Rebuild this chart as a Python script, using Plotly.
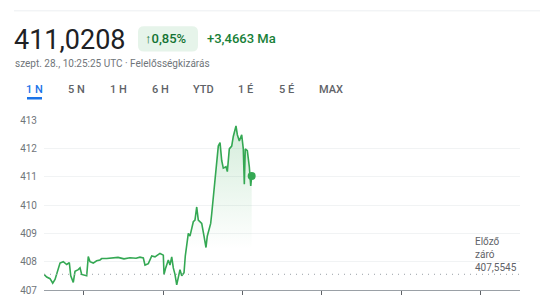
import plotly.graph_objects as go

# ---- data (hours from chart start, price) ----
hours = [0.0, 0.034, 0.076, 0.11, 0.139, 0.18, 0.202, 0.243, 0.286, 0.319, 0.337, 0.369, 0.391,
         0.432, 0.454, 0.475, 0.538, 0.558, 0.58, 0.621, 0.664, 0.706, 0.727, 0.79, 0.857, 0.933,
         1.008, 1.084, 1.16, 1.21, 1.252, 1.273, 1.315, 1.358, 1.399, 1.462, 1.504, 1.513, 1.534,
         1.567, 1.588, 1.61, 1.63, 1.651, 1.673, 1.693, 1.714, 1.736, 1.765, 1.781, 1.799, 1.819,
         1.84, 1.862, 1.882, 1.903, 1.925, 1.945, 1.966, 1.988, 2.017, 2.042, 2.058, 2.084, 2.101,
         2.114, 2.134, 2.156, 2.177, 2.197, 2.219, 2.24, 2.26, 2.294, 2.311, 2.336, 2.366, 2.386,
         2.42, 2.437, 2.462, 2.492, 2.512, 2.525, 2.537, 2.563, 2.588, 2.606, 2.618]
prices = [407.55, 407.46, 407.4, 407.24, 407.37, 407.78, 407.95, 408.0, 407.9, 407.97, 407.5, 407.27,
          407.66, 407.72, 407.78, 407.55, 407.5, 408.18, 408.0, 407.95, 408.03, 408.06, 408.11, 408.11,
          408.12, 408.15, 408.1, 408.14, 408.12, 408.16, 408.13, 407.88, 407.93, 408.2, 408.17, 408.29,
          408.23, 407.55, 407.78, 408.06, 407.88, 408.17, 407.78, 407.55, 407.18, 407.5, 407.72, 407.5,
          407.61, 408.2, 408.54, 409.0, 408.9, 409.13, 409.41, 409.47, 409.93, 409.47, 409.41, 409.35,
          408.9, 408.5, 408.9, 409.25, 409.35, 409.69, 410.26, 410.94, 411.4, 412.08, 412.2, 411.57,
          411.3, 411.35, 411.18, 411.98, 412.08, 412.42, 412.79, 412.48, 412.26, 412.48, 411.98,
          410.73, 411.98, 411.92, 411.35, 410.67, 411.02]
prev_close = 407.5545
y_ticks = [407, 408, 409, 410, 411, 412, 413]
x_ticks = [0.5, 1.5, 2.5, 3.5, 4.5, 5.5]
tabs = ["1 N", "5 N", "1 H", "6 H", "YTD", "1 É", "5 É", "MAX"]
tab_x = [34, 76, 118, 160, 203, 245, 286, 331]

W, H = 540, 304
L, R, T, B = 44, 20, 120, 8
pw, ph = W - L - R, H - T - B

def px(x):
    return (x - L) / pw

def py(y):
    return (H - B - y) / ph

GREEN = "#34a853"
fig = go.Figure()
fig.add_trace(go.Scatter(
    x=hours, y=prices, mode="lines",
    line=dict(color=GREEN, width=1.6),
    fill="tozeroy",
    fillgradient=dict(type="vertical", start=408.6, stop=413,
                      colorscale=[[0, "rgba(52,168,83,0)"], [1, "rgba(52,168,83,0.22)"]]),
    hoverinfo="skip", showlegend=False))
fig.add_trace(go.Scatter(x=[hours[-1]], y=[prices[-1]], mode="markers",
                         marker=dict(color=GREEN, size=8), showlegend=False))
fig.add_trace(go.Scatter(x=[0, 6], y=[prev_close, prev_close], mode="lines",
                         line=dict(color="#9aa0a6", width=1, dash="1px,5px"), showlegend=False))

ann = []
def text(x, y, s, size, color, xanchor="left", weight=400):
    ann.append(dict(x=px(x), y=py(y), xref="paper", yref="paper", text=s, showarrow=False,
                    xanchor=xanchor, yanchor="middle",
                    font=dict(size=size, color=color, family="Roboto", weight=weight)))

text(12, 37, "411,0208", 27, "#202124")
text(143, 36, "↑0,85%", 13, "#137333", weight=500)
text(205, 36, "+3,4663 Ma", 13, "#188038", weight=500)
text(13, 61, "szept. 28., 10:25:25 UTC · Felelősségkizárás", 10, "#70757a")
for t, x in zip(tabs, tab_x):
    text(x, 88, t, 11, "#1a73e8" if t == "1 N" else "#5f6368", xanchor="center", weight=500)
ann.append(dict(x=px(473), y=py(259), xref="paper", yref="paper", text="Előző<br>záró<br>407,5545",
                showarrow=False, xanchor="left", yanchor="middle", align="left",
                font=dict(size=10, color="#5f6368", family="Roboto")))

def rounded(x0, y0, x1, y1, r):
    rx, ry = r / pw, r / ph
    a0, a1 = px(x0), px(x1)
    b0, b1 = py(y1), py(y0)  # b0 bottom, b1 top
    return (f"M{a0+rx},{b0} L{a1-rx},{b0} Q{a1},{b0} {a1},{b0+ry} L{a1},{b1-ry} "
            f"Q{a1},{b1} {a1-rx},{b1} L{a0+rx},{b1} Q{a0},{b1} {a0},{b1-ry} "
            f"L{a0},{b0+ry} Q{a0},{b0} {a0+rx},{b0} Z")

shapes = [
    dict(type="line", xref="paper", yref="paper", x0=px(14), x1=px(540), y0=py(7), y1=py(7),
         line=dict(color="#eceff1", width=1)),
    dict(type="path", xref="paper", yref="paper", path=rounded(138, 23, 198, 49, 6),
         fillcolor="#e6f4ea", line=dict(width=0), layer="below"),
    dict(type="line", xref="paper", yref="paper", x0=px(27), x1=px(42), y0=py(97.5), y1=py(97.5),
         line=dict(color="#1a73e8", width=2.5)),
]

fig.update_layout(
    width=W, height=H, margin=dict(l=L, r=R, t=T, b=B),
    paper_bgcolor="white", plot_bgcolor="white",
    font=dict(family="Roboto", color="#70757a", size=10),
    annotations=ann, shapes=shapes, showlegend=False,
    xaxis=dict(range=[0, 6], tickvals=x_ticks, ticktext=[""] * len(x_ticks), showgrid=False,
               zeroline=False, showline=True, linecolor="#9aa0a6", linewidth=1,
               ticks="outside", ticklen=4, tickcolor="#5f6368", fixedrange=True),
    yaxis=dict(range=[407, 413], tickvals=y_ticks, showgrid=True, gridcolor="#f1f3f4",
               zeroline=False, showline=False, ticks="", ticklabelstandoff=6,
               tickfont=dict(size=10, color="#70757a"), fixedrange=True),
)
fig.write_html("out.html", config={"displayModeBar": False})
